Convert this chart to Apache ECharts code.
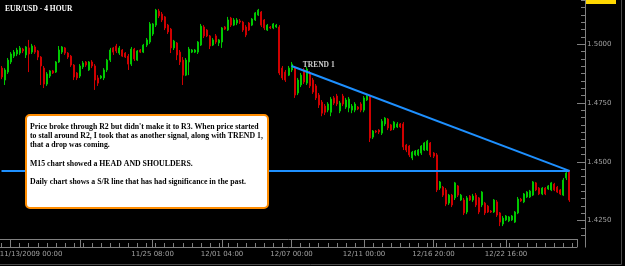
<!DOCTYPE html>
<html>
<head>
<meta charset="utf-8">
<script src="https://cdn.jsdelivr.net/npm/echarts@6/dist/echarts.min.js"></script>
<style>
  html, body { margin: 0; padding: 0; background: #000; }
  #chart { width: 625px; height: 266px; }
</style>
</head>
<body>
<div id="chart"></div>
<script>
// EUR/USD 4h bars, 13 Nov - 23 Dec 2009
const opens = [
  1.4899, 1.4848, 1.4882, 1.4925, 1.4950, 1.4959, 1.4963, 1.4980, 1.4955, 1.4985,
  1.4967, 1.4989, 1.4972, 1.4946, 1.4899, 1.4831, 1.4865, 1.4887, 1.4882, 1.4925,
  1.4967, 1.4985, 1.4963, 1.4950, 1.4912, 1.4878, 1.4865, 1.4904, 1.4925, 1.4891,
  1.4925, 1.4908, 1.4857, 1.4857, 1.4857, 1.4891, 1.4933, 1.4985, 1.4993, 1.4963,
  1.4976, 1.4963, 1.4950, 1.4916, 1.4980, 1.4933, 1.4976, 1.4967, 1.4997, 1.5010,
  1.5044, 1.5082, 1.5142, 1.5129, 1.5117, 1.5082, 1.5065, 1.4985, 1.5006, 1.4967,
  1.4933, 1.4869, 1.4925, 1.4967, 1.4967, 1.4967, 1.4997, 1.5074, 1.5061, 1.5036,
  1.4997, 1.5036, 1.5006, 1.5010, 1.5074, 1.5061, 1.5112, 1.5082, 1.5091, 1.5100,
  1.5095, 1.5074, 1.5091, 1.5082, 1.5104, 1.5125, 1.5138, 1.5104, 1.5061, 1.5074,
  1.5070, 1.5074, 1.5074, 1.4899, 1.4882, 1.4869, 1.4891, 1.4899, 1.4793, 1.4827,
  1.4891, 1.4835, 1.4878, 1.4848, 1.4823, 1.4784, 1.4754, 1.4737, 1.4720, 1.4711,
  1.4772, 1.4780, 1.4716, 1.4780, 1.4733, 1.4729, 1.4720, 1.4720, 1.4733, 1.4746,
  1.4720, 1.4763, 1.4776, 1.4605, 1.4631, 1.4635, 1.4622, 1.4661, 1.4682, 1.4657,
  1.4644, 1.4648, 1.4661, 1.4661, 1.4571, 1.4567, 1.4516, 1.4529, 1.4529, 1.4537,
  1.4550, 1.4550, 1.4580, 1.4537, 1.4529, 1.4388, 1.4392, 1.4380, 1.4324, 1.4358,
  1.4346, 1.4397, 1.4337, 1.4337, 1.4286, 1.4354, 1.4337, 1.4358, 1.4346, 1.4316,
  1.4324, 1.4311, 1.4290, 1.4286, 1.4329, 1.4282, 1.4235, 1.4252, 1.4248, 1.4252,
  1.4243, 1.4282, 1.4341, 1.4329, 1.4350, 1.4350, 1.4358, 1.4410, 1.4388, 1.4363,
  1.4388, 1.4384, 1.4380, 1.4405, 1.4392, 1.4380, 1.4358, 1.4431, 1.4456
];
const closes = [
  1.4861, 1.4891, 1.4933, 1.4959, 1.4967, 1.4976, 1.4985, 1.4972, 1.4989, 1.4959,
  1.4993, 1.4967, 1.4946, 1.4908, 1.4831, 1.4874, 1.4887, 1.4878, 1.4925, 1.4976,
  1.4989, 1.4963, 1.4946, 1.4912, 1.4861, 1.4857, 1.4908, 1.4921, 1.4912, 1.4925,
  1.4908, 1.4848, 1.4835, 1.4865, 1.4891, 1.4933, 1.4976, 1.4967, 1.4972, 1.4985,
  1.4950, 1.4946, 1.4916, 1.4980, 1.4938, 1.4972, 1.4967, 1.4997, 1.5019, 1.5087,
  1.5087, 1.5146, 1.5121, 1.5104, 1.5070, 1.5053, 1.4985, 1.5014, 1.4955, 1.4925,
  1.4869, 1.4933, 1.4980, 1.4976, 1.4976, 1.5010, 1.5078, 1.5036, 1.5036, 1.4993,
  1.5019, 1.5010, 1.5019, 1.5070, 1.5065, 1.5104, 1.5082, 1.5104, 1.5104, 1.5095,
  1.5061, 1.5040, 1.5061, 1.5108, 1.5134, 1.5146, 1.5082, 1.5070, 1.5082, 1.5070,
  1.5087, 1.5082, 1.4878, 1.4857, 1.4848, 1.4899, 1.4916, 1.4784, 1.4848, 1.4869,
  1.4840, 1.4895, 1.4823, 1.4797, 1.4772, 1.4742, 1.4707, 1.4711, 1.4746, 1.4767,
  1.4750, 1.4746, 1.4750, 1.4746, 1.4763, 1.4767, 1.4737, 1.4746, 1.4725, 1.4720,
  1.4772, 1.4780, 1.4601, 1.4631, 1.4627, 1.4627, 1.4673, 1.4686, 1.4644, 1.4635,
  1.4669, 1.4661, 1.4648, 1.4563, 1.4550, 1.4529, 1.4541, 1.4546, 1.4550, 1.4567,
  1.4580, 1.4588, 1.4529, 1.4524, 1.4380, 1.4414, 1.4358, 1.4320, 1.4358, 1.4316,
  1.4410, 1.4358, 1.4358, 1.4282, 1.4346, 1.4337, 1.4354, 1.4316, 1.4286, 1.4371,
  1.4282, 1.4286, 1.4286, 1.4337, 1.4273, 1.4243, 1.4260, 1.4269, 1.4265, 1.4269,
  1.4286, 1.4341, 1.4333, 1.4363, 1.4371, 1.4375, 1.4414, 1.4380, 1.4363, 1.4388,
  1.4363, 1.4397, 1.4410, 1.4380, 1.4371, 1.4363, 1.4422, 1.4452, 1.4337
];
const lows = [
  1.4852, 1.4827, 1.4874, 1.4916, 1.4942, 1.4950, 1.4955, 1.4963, 1.4942, 1.4882,
  1.4959, 1.4959, 1.4933, 1.4827, 1.4814, 1.4823, 1.4857, 1.4874, 1.4878, 1.4921,
  1.4959, 1.4955, 1.4938, 1.4904, 1.4848, 1.4848, 1.4857, 1.4895, 1.4904, 1.4887,
  1.4899, 1.4806, 1.4823, 1.4852, 1.4848, 1.4882, 1.4925, 1.4955, 1.4963, 1.4955,
  1.4946, 1.4942, 1.4891, 1.4908, 1.4929, 1.4929, 1.4963, 1.4963, 1.4989, 1.5002,
  1.5036, 1.5074, 1.5112, 1.5095, 1.5061, 1.5044, 1.4963, 1.4976, 1.4933, 1.4912,
  1.4827, 1.4865, 1.4869, 1.4963, 1.4963, 1.4959, 1.4993, 1.5027, 1.5031, 1.4980,
  1.4993, 1.5002, 1.4993, 1.4985, 1.5061, 1.5057, 1.5074, 1.5078, 1.5082, 1.5087,
  1.5053, 1.5031, 1.5057, 1.5078, 1.5100, 1.5121, 1.5074, 1.5061, 1.5057, 1.5065,
  1.5065, 1.5070, 1.4869, 1.4848, 1.4840, 1.4865, 1.4882, 1.4772, 1.4784, 1.4818,
  1.4831, 1.4827, 1.4814, 1.4789, 1.4763, 1.4729, 1.4694, 1.4699, 1.4711, 1.4694,
  1.4742, 1.4737, 1.4707, 1.4737, 1.4725, 1.4711, 1.4707, 1.4711, 1.4720, 1.4711,
  1.4711, 1.4759, 1.4584, 1.4597, 1.4622, 1.4618, 1.4614, 1.4652, 1.4635, 1.4631,
  1.4635, 1.4644, 1.4644, 1.4550, 1.4541, 1.4520, 1.4507, 1.4524, 1.4524, 1.4529,
  1.4546, 1.4546, 1.4520, 1.4516, 1.4371, 1.4380, 1.4350, 1.4311, 1.4316, 1.4307,
  1.4337, 1.4350, 1.4333, 1.4273, 1.4277, 1.4333, 1.4329, 1.4307, 1.4277, 1.4307,
  1.4273, 1.4282, 1.4282, 1.4282, 1.4265, 1.4226, 1.4226, 1.4248, 1.4243, 1.4248,
  1.4239, 1.4277, 1.4329, 1.4324, 1.4346, 1.4346, 1.4354, 1.4375, 1.4358, 1.4358,
  1.4358, 1.4380, 1.4375, 1.4375, 1.4367, 1.4358, 1.4354, 1.4422, 1.4329
];
const highs = [
  1.4908, 1.4899, 1.4942, 1.4967, 1.4976, 1.4985, 1.4993, 1.4985, 1.4993, 1.5019,
  1.5002, 1.4997, 1.4976, 1.4950, 1.4908, 1.4882, 1.4891, 1.4891, 1.4929, 1.4993,
  1.4993, 1.4989, 1.4967, 1.4955, 1.4916, 1.4882, 1.4916, 1.4929, 1.4929, 1.4929,
  1.4933, 1.4916, 1.4869, 1.4869, 1.4899, 1.4938, 1.4985, 1.4989, 1.5002, 1.4993,
  1.4980, 1.4967, 1.4959, 1.4989, 1.4985, 1.4976, 1.4980, 1.5002, 1.5027, 1.5095,
  1.5091, 1.5151, 1.5151, 1.5138, 1.5121, 1.5087, 1.5070, 1.5019, 1.5010, 1.4976,
  1.4946, 1.4942, 1.4989, 1.4980, 1.4980, 1.5014, 1.5087, 1.5082, 1.5065, 1.5040,
  1.5027, 1.5044, 1.5023, 1.5074, 1.5078, 1.5117, 1.5117, 1.5112, 1.5112, 1.5108,
  1.5100, 1.5082, 1.5095, 1.5112, 1.5138, 1.5151, 1.5142, 1.5108, 1.5087, 1.5078,
  1.5091, 1.5087, 1.5082, 1.4908, 1.4891, 1.4908, 1.4925, 1.4908, 1.4857, 1.4878,
  1.4899, 1.4904, 1.4887, 1.4857, 1.4831, 1.4793, 1.4763, 1.4746, 1.4754, 1.4776,
  1.4780, 1.4789, 1.4759, 1.4789, 1.4772, 1.4776, 1.4746, 1.4754, 1.4737, 1.4754,
  1.4780, 1.4784, 1.4784, 1.4635, 1.4635, 1.4639, 1.4682, 1.4690, 1.4686, 1.4661,
  1.4673, 1.4669, 1.4665, 1.4669, 1.4576, 1.4571, 1.4546, 1.4550, 1.4554, 1.4571,
  1.4584, 1.4593, 1.4584, 1.4541, 1.4537, 1.4418, 1.4397, 1.4388, 1.4363, 1.4363,
  1.4414, 1.4401, 1.4363, 1.4346, 1.4354, 1.4358, 1.4363, 1.4367, 1.4350, 1.4375,
  1.4329, 1.4316, 1.4294, 1.4341, 1.4337, 1.4286, 1.4269, 1.4273, 1.4269, 1.4273,
  1.4290, 1.4350, 1.4346, 1.4367, 1.4375, 1.4380, 1.4418, 1.4414, 1.4392, 1.4392,
  1.4392, 1.4401, 1.4414, 1.4410, 1.4397, 1.4384, 1.4431, 1.4461, 1.4465
];

// bar slots (two empty ones at the right edge)
const categories = Array.from({ length: opens.length + 2 }, (_, i) => String(i));

// x axis: major ticks and the labels under them
const majorIdx = [3, 26, 50, 73, 96, 120, 143, 167];
const labelIdx = [3, 50, 73, 96, 120, 143, 167];
const labelText = ['11/13/2009 00:00', '11/25 08:00', '12/01 04:00', '12/07 00:00',
                   '12/11 00:00', '12/16 20:00', '12/22 16:00'];

// y axis
const yMin = 1.4171, yMax = 1.5189;
const yTicks = [1.425, 1.45, 1.475, 1.5];
const yMinor = [];
for (let v = 1.41875; v < yMax; v += 0.003125) yMinor.push(+v.toFixed(6));

// drawn lines: trend 1 and the daily S/R line
const trendX = [96, 188];
const trendY = [1.4908, 1.4461];
const srX = [0, 188];
const srY = [1.4461, 1.4461];
const trendLabelAt = [105, 1.4912];

const noteLines = [
  "Price broke through R2 but didn't make it to R3. When price started",
  "to stall around R2, I took that as another signal, along with TREND 1,",
  "that a drop was coming.",
  "",
  "M15 chart showed a HEAD AND SHOULDERS.",
  "",
  "Daily chart shows a S/R line that has had significance in the past."
];

const axisGray = '#808080';
const labelGray = '#a0a0a0';
const serif = '"Liberation Serif", "Times New Roman", serif';

const candleData = opens.map((o, i) => [o, closes[i], lows[i], highs[i]]);

const chart = echarts.init(document.getElementById('chart'));
chart.setOption({
  backgroundColor: '#000',
  animation: false,
  title: {
    text: 'EUR/USD - 4 HOUR',
    left: 5, top: 5, padding: 0,
    textStyle: { color: '#fff', fontSize: 7.5, fontWeight: 'bold', fontFamily: serif }
  },
  grid: { left: 0, top: 0, width: 577, height: 239, outerBoundsMode: 'none', containLabel: false },
  xAxis: [
    {
      type: 'category', data: categories, boundaryGap: true, position: 'bottom',
      axisLine: { show: true, lineStyle: { color: axisGray } },
      axisTick: { show: false }, axisLabel: { show: false }, splitLine: { show: false }
    },
    {
      type: 'category', data: categories, boundaryGap: true, position: 'bottom', offset: 8,
      axisLine: { show: true, lineStyle: { color: axisGray } },
      axisTick: {
        show: true, inside: true, length: 4, alignWithLabel: true,
        interval: (i) => i % 3 === 0, lineStyle: { color: axisGray }
      },
      axisLabel: {
        show: true, margin: 4, color: labelGray, fontSize: 7, fontFamily: 'DejaVu Sans',
        interval: (i) => labelIdx.includes(i),
        formatter: (v, i) => {
          const k = labelIdx.indexOf(i);
          if (k < 0) return '';
          return k === 0 ? '{first|' + labelText[k] + '}' : labelText[k];
        },
        rich: { first: { padding: [0, 0, 0, 41], color: labelGray, fontSize: 7, fontFamily: 'DejaVu Sans' } }
      },
      splitLine: { show: false }
    },
    {
      type: 'category', data: categories, boundaryGap: true, position: 'bottom', offset: 8,
      axisLine: { show: false },
      axisTick: {
        show: true, inside: true, length: 8, alignWithLabel: true,
        interval: (i) => majorIdx.includes(i), lineStyle: { color: axisGray }
      },
      axisLabel: { show: false }, splitLine: { show: false }
    }
  ],
  yAxis: [
    {
      type: 'value', position: 'right', offset: 8, min: yMin, max: yMax,
      axisLine: { show: true, lineStyle: { color: axisGray } },
      axisTick: { show: true, inside: true, length: 8, customValues: yTicks, lineStyle: { color: axisGray } },
      axisLabel: {
        show: true, customValues: yTicks, margin: 2, color: labelGray,
        fontSize: 7, fontFamily: 'DejaVu Sans', formatter: (v) => v.toFixed(4)
      },
      splitLine: { show: false }
    },
    {
      type: 'value', position: 'right', offset: 8, min: yMin, max: yMax,
      axisLine: { show: false },
      axisTick: { show: true, inside: true, length: 4, customValues: yMinor, lineStyle: { color: axisGray } },
      axisLabel: { show: false }, splitLine: { show: false }
    }
  ],
  series: [
    {
      type: 'candlestick',
      data: candleData,
      barWidth: 1.5,
      itemStyle: {
        color: '#00c800', color0: '#d00000',
        borderColor: '#00c800', borderColor0: '#d00000', borderWidth: 1
      },
      silent: true
    },
    {
      type: 'line', data: srX.map((x, i) => [x, srY[i]]),
      symbol: 'none', silent: true, z: 5,
      lineStyle: { color: '#1e90ff', width: 2 }
    },
    {
      type: 'line', data: trendX.map((x, i) => [x, trendY[i]]),
      symbol: 'none', silent: true, z: 5,
      lineStyle: { color: '#1e90ff', width: 2 }
    },
    {
      type: 'scatter', data: [trendLabelAt], symbolSize: 1, silent: true,
      itemStyle: { color: 'rgba(0,0,0,0)' },
      label: {
        show: true, position: 'inside', formatter: 'TREND 1',
        color: '#fff', fontSize: 7.5, fontWeight: 'bold', fontFamily: serif
      }
    }
  ],
  graphic: [
    // outer frame and the corner of the axis strips
    { type: 'line', silent: true, shape: { x1: 621.5, y1: 0, x2: 621.5, y2: 264.5 }, style: { stroke: '#4a4a4a', lineWidth: 1 } },
    { type: 'line', silent: true, shape: { x1: 0, y1: 264.5, x2: 621.5, y2: 264.5 }, style: { stroke: '#4a4a4a', lineWidth: 1 } },
    { type: 'line', silent: true, shape: { x1: 577.5, y1: 239, x2: 577.5, y2: 247 }, style: { stroke: axisGray, lineWidth: 1 } },
    { type: 'line', silent: true, shape: { x1: 585.5, y1: 239, x2: 585.5, y2: 247.5 }, style: { stroke: axisGray, lineWidth: 1 } },
    // price tag at the top edge
    { type: 'rect', silent: true, shape: { x: 586, y: -7, width: 30, height: 11 }, style: { fill: '#ffd700' } },
    { type: 'text', silent: true, x: 588, y: -5, style: { text: '1.51893', fill: '#000', fontSize: 7, fontFamily: 'DejaVu Sans' } },
    // comment box
    {
      type: 'rect', silent: true, z: 10,
      shape: { x: 26, y: 115, width: 242, height: 93, r: 4 },
      style: { fill: '#fff', stroke: '#ff8c00', lineWidth: 2 }
    },
    {
      type: 'text', silent: true, z: 11, x: 30, y: 122,
      style: {
        text: noteLines.join('\n'), fill: '#000',
        fontSize: 7.8, fontWeight: 'bold', fontFamily: serif, lineHeight: 9.3
      }
    }
  ]
});
</script>
</body>
</html>
